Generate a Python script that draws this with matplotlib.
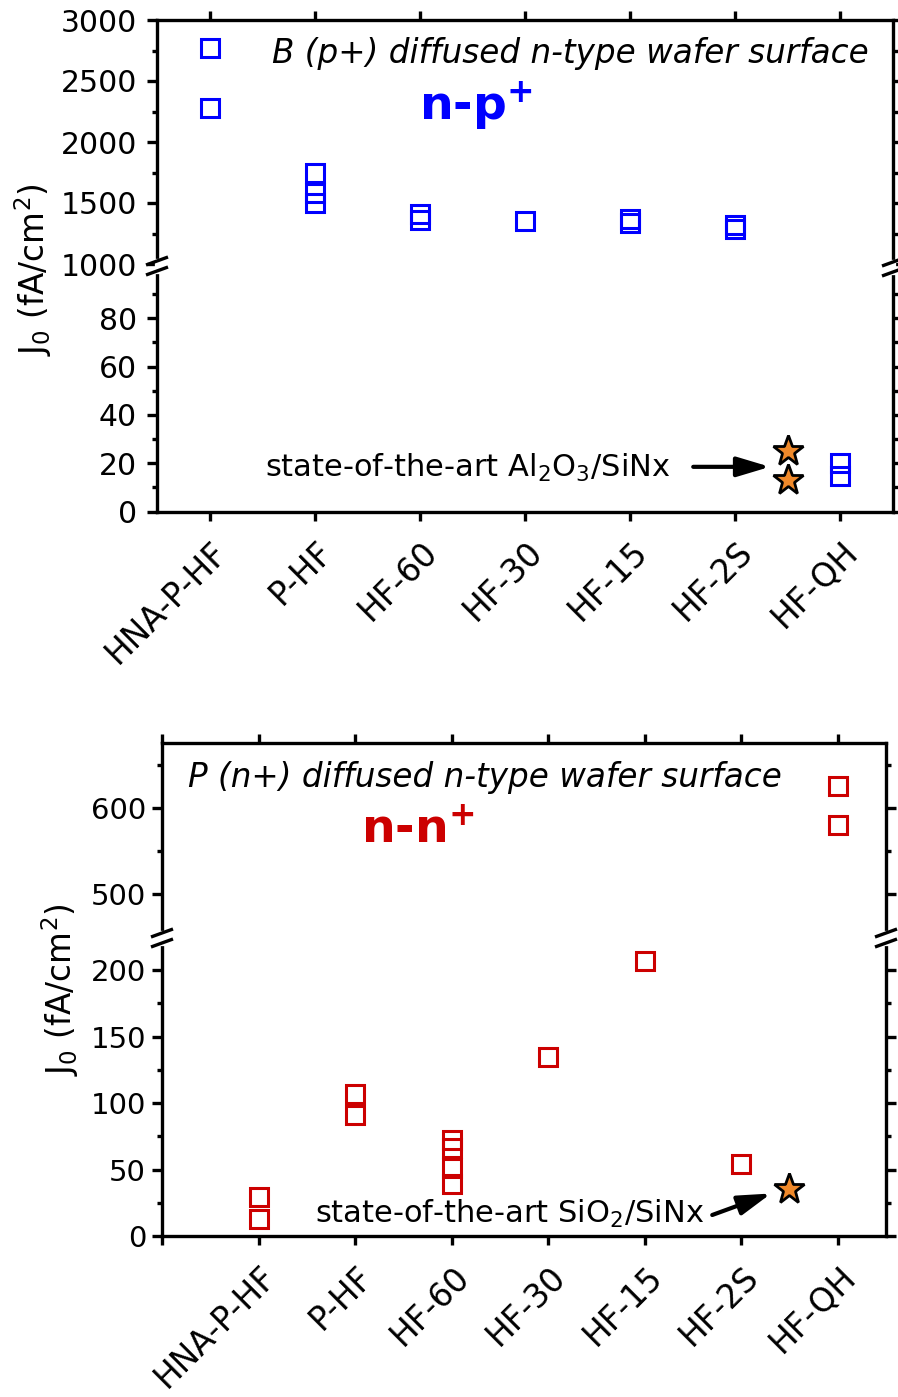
import matplotlib
matplotlib.use("Agg")
import matplotlib.pyplot as plt
from matplotlib.lines import Line2D
from matplotlib.transforms import ScaledTranslation
from matplotlib.ticker import FixedLocator

plt.rcParams['font.family'] = ['DejaVu Sans']
plt.rcParams['mathtext.fontset'] = 'dejavusans'

# ---------------- data ----------------
categories = ['HNA-P-HF', 'P-HF', 'HF-60', 'HF-30', 'HF-15', 'HF-2S', 'HF-QH']

# B (p+) diffused n-type wafer surface (n-p+)
np_x = [0, 0, 1, 1, 1, 2, 2, 3, 4, 4, 5, 5, 6, 6]
np_j0 = [2770, 2280, 1750, 1580, 1500, 1410, 1360, 1350, 1370, 1340, 1320, 1290, 20, 14.5]
np_ref_x = [5.5, 5.5]
np_ref_j0 = [25, 13]

# P (n+) diffused n-type wafer surface (n-n+)
nn_x = [0, 0, 1, 1, 2, 2, 2, 2, 3, 4, 5, 6, 6]
nn_j0 = [29, 13, 107, 91, 72, 66, 51, 39, 135, 207, 54, 625, 580]
nn_ref_x = [5.5]
nn_ref_j0 = [35]

top_upper_ticks = [1000, 1500, 2000, 2500, 3000]
top_lower_ticks = [0, 20, 40, 60, 80]
bot_upper_ticks = [500, 600]
bot_lower_ticks = [0, 50, 100, 150, 200]

BLUE = '#0000FF'
RED = '#CC0000'
STAR = '#F0892A'

W, H = 898, 1397
fig = plt.figure(figsize=(W / 100, H / 100), dpi=100)


def fx(px):
    return px / W


def fy(py):
    return 1 - py / H


def ax_px(l, t, r, b):
    return fig.add_axes([l / W, 1 - b / H, (r - l) / W, (b - t) / H])


SPW = 2.4


def style(ax, part, pad, lsize):
    for s in ax.spines.values():
        s.set_linewidth(SPW)
        s.set_color('black')
    if part == 'upper':
        ax.spines['bottom'].set_visible(False)
        ax.tick_params(axis='x', which='both', bottom=False, top=True,
                       labelbottom=False, labeltop=False, direction='out',
                       length=6.5, width=SPW)
    else:
        ax.spines['top'].set_visible(False)
        ax.tick_params(axis='x', which='both', bottom=True, top=False,
                       labelbottom=False, labeltop=False, direction='out',
                       length=6.5, width=SPW)
    ax.tick_params(axis='y', which='both', left=True, right=True,
                   labelleft=True, labelright=False, direction='out')
    ax.tick_params(axis='y', which='major', length=7.2, width=SPW,
                   labelsize=lsize, pad=pad)
    ax.tick_params(axis='y', which='minor', length=3.6, width=SPW)
    ax.tick_params(axis='x', which='minor', bottom=False, top=False)


def scatter(ax, x, y, ref_x, ref_y, color):
    ax.plot(x, y, ls='none', marker='s', ms=13, mfc='none', mec=color, mew=2.2)
    ax.plot(ref_x, ref_y, ls='none', marker='*', ms=23, mfc=STAR, mec='black', mew=2.0)


def brk(xc, yc):
    fig.add_artist(Line2D([fx(xc), fx(xc)], [fy(yc - 5), fy(yc + 5)],
                          color='white', lw=3.8, transform=fig.transFigure))
    for dy in (-5, 5):
        fig.add_artist(Line2D([fx(xc - 11), fx(xc + 11)],
                              [fy(yc + dy + 4), fy(yc + dy - 4)],
                              color='black', lw=2.4, transform=fig.transFigure,
                              solid_capstyle='butt'))


def xlabels(ax, dx_px=1, dy_px=24, size=23.5):
    tr = ax.get_xaxis_transform() + ScaledTranslation(dx_px / 100, -dy_px / 100, fig.dpi_scale_trans)
    for i, c in enumerate(categories):
        ax.text(i, 0, c, transform=tr, rotation=45, rotation_mode='anchor',
                ha='right', va='top', fontsize=size)


ARROW = dict(arrowstyle='-|>,head_length=1.0,head_width=0.3', mutation_scale=20,
             lw=3, color='black', shrinkA=0, shrinkB=0)

# ---------------- top panel ----------------
tu = ax_px(157, 20, 893, 264)
tl = ax_px(157, 264, 893, 511.5)
for ax, part in ((tu, 'upper'), (tl, 'lower')):
    scatter(ax, np_x, np_j0, np_ref_x, np_ref_j0, BLUE)
    ax.set_xlim(-0.5, 6.5)
    ax.set_xticks(range(len(categories)))
    style(ax, part, 7.2, 21.5)
tu.set_ylim(1000, 3000)
tu.yaxis.set_major_locator(FixedLocator(top_upper_ticks))
tu.yaxis.set_minor_locator(FixedLocator([1250, 1750, 2250, 2750]))
tl.set_ylim(0, 102.5)
tl.yaxis.set_major_locator(FixedLocator(top_lower_ticks))
tl.yaxis.set_minor_locator(FixedLocator([10, 30, 50, 70, 90]))
xlabels(tl)

fig.text(fx(33), fy(270), r'J$_0$ (fA/cm$^2$)', rotation=90, ha='center',
         va='center', fontsize=23.5)
fig.text(fx(272), fy(63), 'B (p+) diffused n-type wafer surface', style='italic',
         fontsize=23.5, ha='left', va='baseline')
fig.text(fx(419), fy(120), r'n-$\mathbf{p}^{\mathbf{+}}$', color=BLUE,
         fontweight='bold', fontsize=34, ha='left', va='baseline')
fig.text(fx(265), fy(476.5), r'state-of-the-art Al$_2$O$_3$/SiNx', fontsize=22,
         ha='left', va='baseline')
tl.annotate('', xy=(5.33, 18.5), xytext=(4.6, 18.5), arrowprops=ARROW)
brk(157, 266)
brk(893, 267)

# ---------------- bottom panel ----------------
bu = ax_px(162, 743, 886, 937)
bl = ax_px(162, 937, 886, 1236)
for ax, part in ((bu, 'upper'), (bl, 'lower')):
    scatter(ax, nn_x, nn_j0, nn_ref_x, nn_ref_j0, RED)
    ax.set_xlim(-1, 6.5)
    ax.set_xticks(range(-1, len(categories)))
    style(ax, part, 4.3, 21)
bu.set_ylim(450, 675)
bu.yaxis.set_major_locator(FixedLocator(bot_upper_ticks))
bu.yaxis.set_minor_locator(FixedLocator([550, 650]))
bl.set_ylim(0, 225)
bl.yaxis.set_major_locator(FixedLocator(bot_lower_ticks))
bl.yaxis.set_minor_locator(FixedLocator([25, 75, 125, 175]))
xlabels(bl)

fig.text(fx(60), fy(990), r'J$_0$ (fA/cm$^2$)', rotation=90, ha='center',
         va='center', fontsize=23.5)
fig.text(fx(188), fy(786.5), 'P (n+) diffused n-type wafer surface', style='italic',
         fontsize=23.5, ha='left', va='baseline')
fig.text(fx(361), fy(843), r'n-$\mathbf{n}^{\mathbf{+}}$', color=RED,
         fontweight='bold', fontsize=34, ha='left', va='baseline')
fig.text(fx(315), fy(1223), r'state-of-the-art SiO$_2$/SiNx', fontsize=22,
         ha='left', va='baseline')
bl.annotate('', xy=(5.31, 32), xytext=(4.70, 15.8), arrowprops=ARROW)
brk(162, 938)
brk(886, 938)

fig.savefig('out.png', dpi=100)
